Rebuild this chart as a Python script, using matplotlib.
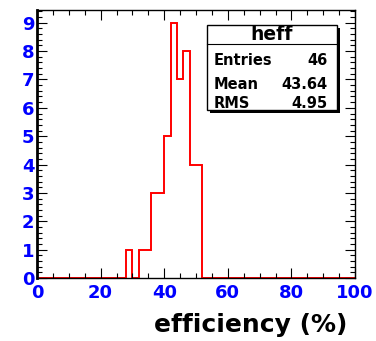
import matplotlib
matplotlib.use("Agg")
import matplotlib.pyplot as plt
import numpy as np
from matplotlib.ticker import MultipleLocator
from matplotlib.patches import Rectangle

plt.rcParams['font.family'] = ['DejaVu Sans']

# data: efficiency histogram, 50 bins of width 2 from 0 to 100
bin_lo = 0
bin_hi = 100
bin_w = 2
counts = [0]*14 + [1, 0, 1, 1, 3, 3, 5, 9, 7, 8, 4, 4] + [0]*24
hist_name = "heff"
stat_labels = ["Entries", "Mean", "RMS"]
stat_values = ["46", "43.64", "4.95"]
xlabel = "efficiency (%)"

edges = np.arange(bin_lo, bin_hi + bin_w, bin_w)

fig = plt.figure(figsize=(3.76, 3.41), dpi=100)
W, H = 376, 341
ax = fig.add_axes([37/W, 1 - 278/H, (355-37)/W, (278-10)/H])

ax.stairs(counts, edges, color='red', linewidth=1.4)
ax.set_xlim(0, 100)
ax.set_ylim(0, 9.45)

ax.xaxis.set_major_locator(MultipleLocator(20))
ax.xaxis.set_minor_locator(MultipleLocator(5))
ax.yaxis.set_major_locator(MultipleLocator(1))
ax.yaxis.set_minor_locator(MultipleLocator(0.2))
ax.tick_params(which='both', direction='in', top=True, right=True, color='black')
ax.tick_params(which='major', length=7, width=0.8)
ax.tick_params(which='minor', length=3.5, width=0.8)
ax.tick_params(axis='both', which='major', labelsize=13, labelcolor='blue')
ax.tick_params(axis='x', which='major', pad=4)
ax.tick_params(axis='y', which='major', pad=2)
for lab in ax.get_xticklabels() + ax.get_yticklabels():
    lab.set_fontweight('bold')

for s in ax.spines.values():
    s.set_linewidth(1.0)
ax.spines['left'].set_linewidth(2.0)

fig.text(347/W, 1 - 325/H, xlabel, fontsize=18, fontweight='bold',
         ha='right', va='center')

# stats box (axes fractions)
bx0, bx1 = (207 - 37) / 318, (337 - 37) / 318
by0, by1 = (278 - 110) / 268, (278 - 25) / 268
sx, sy = 2.5 / 318, 2.5 / 268
ax.add_patch(Rectangle((bx0 + sx, by0 - sy), bx1 - bx0, by1 - by0,
                       transform=ax.transAxes, facecolor='black', edgecolor='none',
                       linewidth=0, zorder=5, clip_on=False))
ax.add_patch(Rectangle((bx0, by0), bx1 - bx0, by1 - by0,
                       transform=ax.transAxes, facecolor='white', edgecolor='black',
                       linewidth=1, zorder=6, clip_on=False))
hy = (278 - 44) / 268
ax.plot([bx0, bx1], [hy, hy], transform=ax.transAxes, color='black', linewidth=0.8, zorder=7)
ax.text((bx0 + bx1) / 2, (hy + by1) / 2, hist_name, transform=ax.transAxes,
        ha='center', va='center', fontsize=13.5, fontweight='bold', zorder=8)
rows_y = [(278 - 60) / 268, (278 - 84) / 268, (278 - 103) / 268]
for lab, val, yy in zip(stat_labels, stat_values, rows_y):
    ax.text(bx0 + 7 / 318, yy, lab, transform=ax.transAxes, ha='left', va='center',
            fontsize=10.5, fontweight='bold', zorder=8)
    ax.text(bx1 - 9 / 318, yy, val, transform=ax.transAxes, ha='right', va='center',
            fontsize=10.5, fontweight='bold', zorder=8)

fig.savefig("out.png", dpi=100)
